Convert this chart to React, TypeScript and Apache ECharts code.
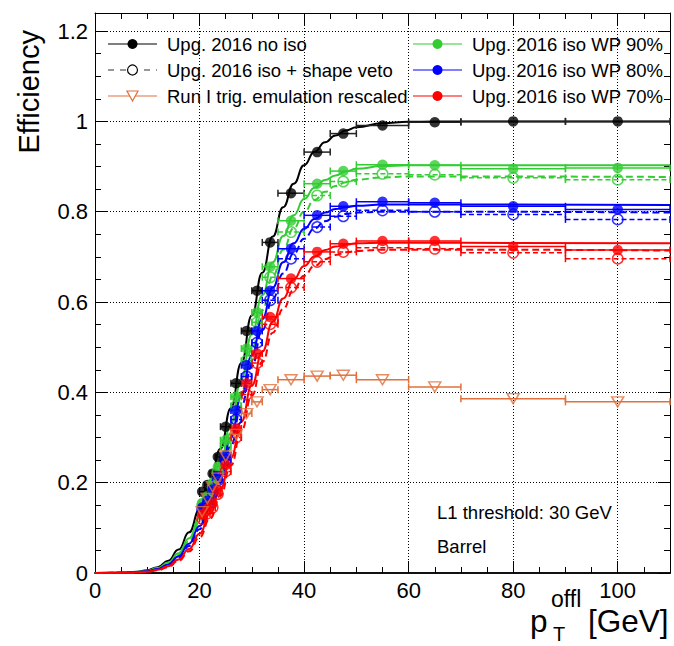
import { useEffect, useRef } from 'react';
import * as echarts from 'echarts';

const FONT = '"Liberation Sans", Arial, Helvetica, sans-serif';

// Offline pT binning (GeV)
const binLo = [20, 21, 22, 23, 24, 26, 28, 30, 32, 35, 40, 45, 50, 60, 70, 90];
const binHi = [21, 22, 23, 24, 26, 28, 30, 32, 35, 40, 45, 50, 60, 70, 90, 110];
const binCenter = [20.5, 21.5, 22.5, 23.5, 25, 27, 29, 31, 33.5, 37.5, 42.5, 47.5, 55, 65, 80, 100];

// Measured efficiencies per bin
const effNoIso = [0.18, 0.195, 0.22, 0.257, 0.324, 0.42, 0.536, 0.625, 0.732, 0.841, 0.932, 0.973, 0.991, 0.998, 1.0, 1.0];
const effIso90 = [0.155, 0.17, 0.2, 0.235, 0.294, 0.39, 0.497, 0.577, 0.678, 0.78, 0.862, 0.89, 0.904, 0.903, 0.895, 0.897];
const effIso90Veto = [0.15, 0.163, 0.19, 0.225, 0.28, 0.37, 0.47, 0.555, 0.655, 0.755, 0.836, 0.867, 0.884, 0.882, 0.875, 0.871];
const effIso80 = [0.145, 0.16, 0.185, 0.215, 0.26, 0.36, 0.46, 0.536, 0.625, 0.718, 0.792, 0.812, 0.822, 0.82, 0.812, 0.805];
const effIso80Veto = [0.14, 0.152, 0.178, 0.205, 0.25, 0.34, 0.435, 0.51, 0.604, 0.696, 0.766, 0.79, 0.803, 0.8, 0.794, 0.783];
const effIso70 = [0.13, 0.142, 0.154, 0.185, 0.239, 0.32, 0.42, 0.486, 0.567, 0.652, 0.711, 0.729, 0.735, 0.735, 0.723, 0.715];
const effIso70Veto = [0.12, 0.132, 0.145, 0.175, 0.225, 0.3, 0.395, 0.465, 0.551, 0.632, 0.689, 0.711, 0.72, 0.718, 0.709, 0.696];
const effRunI = [0.136, 0.165, 0.191, 0.21, 0.259, 0.307, 0.353, 0.379, 0.406, 0.428, 0.436, 0.438, 0.428, 0.412, 0.386, 0.379];

// Turn-on fit curves, sampled along pT
const fitX = [0, 5, 8, 10, 12, 14, 16, 18, 20, 22, 24, 26, 28, 30, 32, 34, 36, 38, 40, 42, 44, 46, 48, 50, 55, 60, 70, 110];
const fitNoIso = [0, 0.0005, 0.0025, 0.006, 0.013, 0.027, 0.052, 0.09, 0.14, 0.2, 0.275, 0.365, 0.465, 0.57, 0.665, 0.745, 0.81, 0.862, 0.903, 0.933, 0.954, 0.969, 0.98, 0.987, 0.996, 0.999, 1.0, 1.0];
const fitIso90 = [0, 0.0005, 0.002, 0.005, 0.011, 0.023, 0.044, 0.077, 0.122, 0.178, 0.247, 0.33, 0.43, 0.528, 0.615, 0.688, 0.746, 0.792, 0.828, 0.853, 0.87, 0.88, 0.889, 0.895, 0.901, 0.903, 0.903, 0.903];
const fitIso90Veto = [0, 0.0004, 0.0018, 0.004, 0.01, 0.021, 0.04, 0.07, 0.112, 0.165, 0.23, 0.31, 0.4, 0.495, 0.582, 0.657, 0.716, 0.763, 0.8, 0.826, 0.844, 0.857, 0.865, 0.871, 0.876, 0.878, 0.878, 0.877];
const fitIso80 = [0, 0.0004, 0.0016, 0.004, 0.009, 0.019, 0.037, 0.065, 0.104, 0.153, 0.214, 0.3, 0.392, 0.482, 0.562, 0.632, 0.688, 0.73, 0.762, 0.784, 0.798, 0.806, 0.81, 0.813, 0.816, 0.816, 0.816, 0.815];
const fitIso80Veto = [0, 0.0004, 0.0015, 0.004, 0.008, 0.017, 0.034, 0.06, 0.097, 0.144, 0.202, 0.282, 0.37, 0.458, 0.538, 0.607, 0.663, 0.707, 0.74, 0.763, 0.779, 0.789, 0.795, 0.798, 0.8, 0.8, 0.8, 0.798];
const fitIso70 = [0, 0.0003, 0.0012, 0.003, 0.007, 0.015, 0.03, 0.053, 0.087, 0.131, 0.186, 0.255, 0.335, 0.415, 0.49, 0.556, 0.608, 0.65, 0.68, 0.701, 0.715, 0.723, 0.727, 0.73, 0.731, 0.731, 0.731, 0.73];
const fitIso70Veto = [0, 0.0003, 0.0011, 0.003, 0.006, 0.013, 0.027, 0.048, 0.079, 0.12, 0.172, 0.238, 0.315, 0.393, 0.467, 0.532, 0.585, 0.627, 0.658, 0.68, 0.695, 0.704, 0.71, 0.713, 0.716, 0.716, 0.716, 0.714];

const legendLeft = ['Upg. 2016 no iso', 'Upg. 2016 iso + shape veto', 'Run I trig. emulation rescaled'];
const legendRight = ['Upg. 2016 iso WP 90%', 'Upg. 2016 iso WP 80%', 'Upg. 2016 iso WP 70%'];
const infoLines = ['L1 threshold: 30 GeV', 'Barrel'];

const BLACK = '#000000';
const GREEN = '#33cc33';
const BLUE = '#0000ff';
const RED = '#ff0000';
const ORANGE = '#e0703c';

function errorBars(values: number[], color: string, dashed: boolean, z: number) {
  return {
    type: 'custom',
    silent: true,
    z,
    data: binCenter.map((c, i) => [c, values[i], binLo[i], binHi[i]]),
    encode: { x: 0, y: 1 },
    renderItem: (_params: any, api: any) => {
      const y = api.value(1);
      const a = api.coord([api.value(2), y]);
      const b = api.coord([api.value(3), y]);
      const cap = 3.5;
      const bar = { stroke: color, lineWidth: 1.5, fill: null, lineDash: dashed ? [5, 3] : null };
      const capStyle = { stroke: color, lineWidth: 1.5, fill: null };
      return {
        type: 'group',
        children: [
          { type: 'line', shape: { x1: a[0], y1: a[1], x2: b[0], y2: b[1] }, style: bar },
          { type: 'line', shape: { x1: a[0], y1: a[1] - cap, x2: a[0], y2: a[1] + cap }, style: capStyle },
          { type: 'line', shape: { x1: b[0], y1: b[1] - cap, x2: b[0], y2: b[1] + cap }, style: capStyle },
        ],
      };
    },
  };
}

function markers(values: number[], color: string, kind: 'filled' | 'open' | 'tri', z: number) {
  const base: any = {
    type: 'scatter',
    z,
    silent: true,
    data: binCenter.map((c, i) => [c, values[i]]),
  };
  if (kind === 'filled') {
    return { ...base, symbol: 'circle', symbolSize: 10.5, itemStyle: { color, borderWidth: 0 } };
  }
  if (kind === 'open') {
    return {
      ...base,
      symbol: 'circle',
      symbolSize: 10.5,
      itemStyle: { color: 'rgba(255,255,255,0)', borderColor: color, borderWidth: 1.5 },
    };
  }
  return {
    ...base,
    symbol: 'triangle',
    symbolRotate: 180,
    symbolSize: [12, 10],
    itemStyle: { color: 'rgba(255,255,255,0)', borderColor: color, borderWidth: 1.5 },
  };
}

function fitLine(values: number[], color: string, dashed: boolean, z: number) {
  return {
    type: 'line',
    z,
    silent: true,
    showSymbol: false,
    smooth: 0.5,
    smoothMonotone: 'x',
    data: fitX.map((x, i) => [x, values[i]]),
    lineStyle: { color, width: 2, type: dashed ? [7, 4] : 'solid' },
  };
}

const tickStyle = { color: '#000', width: 1 };

function xAxisDef(position: 'bottom' | 'top', interval: number, major: boolean) {
  return {
    type: 'value',
    position,
    min: 0,
    max: 110,
    interval,
    axisLine: major
      ? { show: true, onZero: false, lineStyle: position === 'bottom' ? { color: '#111', width: 2 } : tickStyle }
      : { show: false, onZero: false },
    axisTick: { show: true, inside: true, length: major ? 12 : 6, lineStyle: tickStyle },
    axisLabel: {
      show: major && position === 'bottom',
      margin: 6,
      fontSize: 22,
      color: '#000',
      fontFamily: FONT,
      showMaxLabel: false,
    },
    splitLine: {
      show: major && position === 'bottom',
      lineStyle: { color: '#000', width: 1, type: [1, 2] },
    },
  };
}

function yAxisDef(position: 'left' | 'right', interval: number, major: boolean) {
  return {
    type: 'value',
    position,
    min: 0,
    max: 1.24,
    interval,
    axisLine: major ? { show: true, onZero: false, lineStyle: tickStyle } : { show: false, onZero: false },
    axisTick: { show: true, inside: true, length: major ? 12 : 6, lineStyle: tickStyle },
    axisLabel: {
      show: major && position === 'left',
      margin: 7,
      fontSize: 22,
      color: '#000',
      fontFamily: FONT,
      showMaxLabel: false,
    },
    splitLine: {
      show: major && position === 'left',
      lineStyle: { color: '#000', width: 1, type: [1, 2] },
    },
  };
}

function legendGraphics() {
  const els: any[] = [];
  const rows = [44, 70, 96];
  const font = `18.5px ${FONT}`;
  // left column
  const lx0 = 108, lx1 = 157, lxm = 132.5;
  els.push({ type: 'line', shape: { x1: lx0, y1: rows[0], x2: lx1, y2: rows[0] }, style: { stroke: BLACK, lineWidth: 1.2 } });
  els.push({ type: 'circle', shape: { cx: lxm, cy: rows[0], r: 5 }, style: { fill: BLACK } });
  els.push({ type: 'line', shape: { x1: lx0, y1: rows[1], x2: lx1, y2: rows[1] }, style: { stroke: '#333', lineWidth: 1.2, lineDash: [6, 6] } });
  els.push({ type: 'circle', shape: { cx: lxm, cy: rows[1], r: 5 }, style: { fill: '#fff', stroke: BLACK, lineWidth: 1.2 } });
  els.push({ type: 'line', shape: { x1: lx0, y1: rows[2], x2: lx1, y2: rows[2] }, style: { stroke: ORANGE, lineWidth: 1.2 } });
  els.push({
    type: 'polygon',
    shape: { points: [[lxm - 5.5, rows[2] - 5], [lxm + 5.5, rows[2] - 5], [lxm, rows[2] + 5]] },
    style: { fill: '#fff', stroke: ORANGE, lineWidth: 1.2 },
  });
  legendLeft.forEach((t, i) => {
    els.push({ type: 'text', x: 167, y: rows[i], style: { text: t, font, fill: '#000', align: 'left', verticalAlign: 'middle', textAlign: 'left', textVerticalAlign: 'middle' } });
  });
  // right column
  const rx0 = 413, rx1 = 462, rxm = 437.5;
  [GREEN, BLUE, RED].forEach((c, i) => {
    els.push({ type: 'line', shape: { x1: rx0, y1: rows[i], x2: rx1, y2: rows[i] }, style: { stroke: c, lineWidth: 1.2 } });
    els.push({ type: 'circle', shape: { cx: rxm, cy: rows[i], r: 5 }, style: { fill: c } });
  });
  legendRight.forEach((t, i) => {
    els.push({ type: 'text', x: 472, y: rows[i], style: { text: t, font, fill: '#000', align: 'left', verticalAlign: 'middle', textAlign: 'left', textVerticalAlign: 'middle' } });
  });
  return els;
}

function titleGraphics() {
  const t = (text: string, x: number, y: number, size: number) => ({
    type: 'text',
    x,
    y,
    style: {
      text,
      font: `${size}px ${FONT}`,
      fill: '#000',
      align: 'left',
      textAlign: 'left',
      verticalAlign: 'middle',
      textVerticalAlign: 'middle',
    },
  });
  return [
    {
      type: 'text',
      x: 29,
      y: 30,
      rotation: Math.PI / 2,
      style: {
        text: 'Efficiency',
        font: `29px ${FONT}`,
        fill: '#000',
        align: 'right',
        textAlign: 'right',
        verticalAlign: 'middle',
        textVerticalAlign: 'middle',
      },
    },
    t('p', 530, 621, 31.5),
    t('offl', 551, 599, 23),
    t('T', 553, 634, 20),
    t('[GeV]', 588, 621, 31.5),
    t(infoLines[0], 437, 512, 18.5),
    t(infoLines[1], 437, 546, 18.5),
  ];
}

export default function App() {
  const ref = useRef<HTMLDivElement>(null);

  useEffect(() => {
    if (!ref.current) return;
    const chart = echarts.init(ref.current, null, { renderer: 'svg' });
    const option: any = {
      animation: false,
      backgroundColor: '#ffffff',
      grid: { left: 95, right: 4, top: 13, bottom: 73, containLabel: false, outerBoundsMode: 'none' },
      xAxis: [
        xAxisDef('bottom', 20, true),
        xAxisDef('bottom', 5, false),
        xAxisDef('top', 20, true),
        xAxisDef('top', 5, false),
      ],
      yAxis: [
        yAxisDef('left', 0.2, true),
        yAxisDef('left', 0.05, false),
        yAxisDef('right', 0.2, true),
        yAxisDef('right', 0.05, false),
      ],
      series: [
        fitLine(fitNoIso, BLACK, false, 2),
        fitLine(fitIso90, GREEN, false, 2),
        fitLine(fitIso90Veto, GREEN, true, 2),
        fitLine(fitIso80, BLUE, false, 2),
        fitLine(fitIso80Veto, BLUE, true, 2),
        fitLine(fitIso70, RED, false, 2),
        fitLine(fitIso70Veto, RED, true, 2),
        errorBars(effNoIso, '#222', false, 3),
        errorBars(effIso90, GREEN, false, 3),
        errorBars(effIso90Veto, GREEN, true, 3),
        errorBars(effIso80, BLUE, false, 3),
        errorBars(effIso80Veto, BLUE, true, 3),
        errorBars(effIso70, RED, false, 3),
        errorBars(effIso70Veto, RED, true, 3),
        errorBars(effRunI, ORANGE, false, 3),
        markers(effNoIso, BLACK, 'filled', 4),
        markers(effIso90, GREEN, 'filled', 4),
        markers(effIso90Veto, GREEN, 'open', 4),
        markers(effIso80, BLUE, 'filled', 4),
        markers(effIso80Veto, BLUE, 'open', 4),
        markers(effIso70, RED, 'filled', 4),
        markers(effIso70Veto, RED, 'open', 4),
        markers(effRunI, ORANGE, 'tri', 4),
      ],
      graphic: [...legendGraphics(), ...titleGraphics()],
    };
    chart.setOption(option);
    return () => chart.dispose();
  }, []);

  return (
    <div
      ref={ref}
      style={{ position: 'absolute', left: 0, top: 0, width: 674, height: 646, background: '#fff' }}
    />
  );
}
